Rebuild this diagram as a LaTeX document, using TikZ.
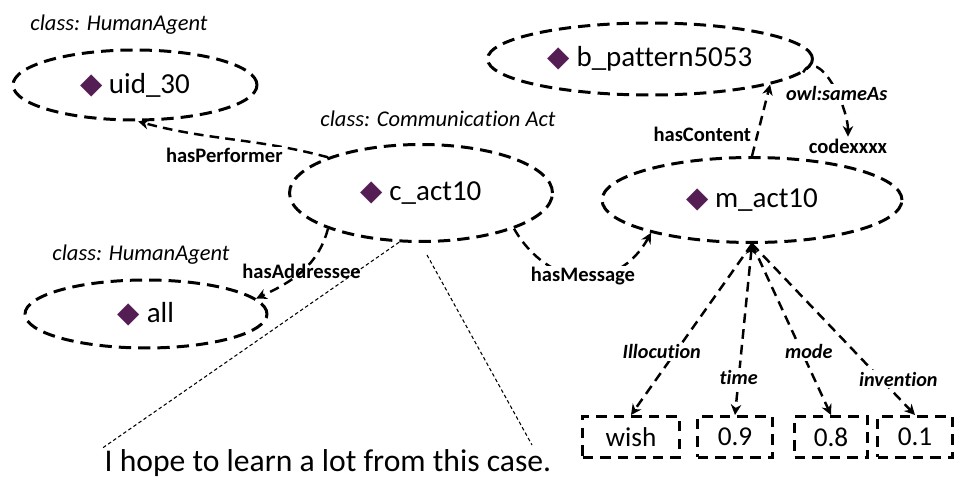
\documentclass[tikz,border=0pt]{standalone}
\usepackage{fontspec}
\setmainfont{Carlito}[Ligatures=NoCommon]
\newfontfamily\symfont{DejaVu Sans}
\usetikzlibrary{shapes.geometric}
\usetikzlibrary{arrows.meta}
\definecolor{dmdcol}{RGB}{84,30,84}
\newcommand{\dmd}{{\symfont\textcolor{dmdcol}{◆}}}
\tikzset{
  inst/.style={ellipse,draw=black,line width=1.7pt,dash pattern=on 7pt off 4pt,inner sep=0pt,font=\fontsize{16.5}{19}\selectfont},
  valbox/.style={rectangle,draw=black,line width=1.7pt,dash pattern=on 6pt off 4pt,minimum height=0.82cm,font=\fontsize{15.5}{18}\selectfont},
  rel/.style={line width=1.4pt,dash pattern=on 5.5pt off 3.5pt,-{Stealth[length=6pt,width=6pt]}},
  lbl/.style={font=\bfseries\fontsize{11.7}{14}\selectfont,fill=white,inner sep=1pt},
  attr/.style={font=\bfseries\itshape\fontsize{11.5}{14}\selectfont,fill=white,inner sep=1pt},
  cls/.style={font=\itshape\fontsize{12.8}{15}\selectfont},
  note/.style={black,line width=0.6pt,dash pattern=on 2pt off 1.5pt}
}
\begin{document}
\begin{tikzpicture}[x=0.02cm,y=0.02cm]
\useasboundingbox (0,0) rectangle (955,479);
\node[cls] (cuid) at (119,454) {class: HumanAgent};
\node[inst,minimum width=4.88cm,minimum height=1.4cm] (uid) at (135,394) {\dmd~uid\_30\hspace{16pt}};
\node[cls] (ccact) at (438,360) {class: Communication Act};
\node[inst,minimum width=5.26cm,minimum height=1.94cm] (cact) at (421,286) {\dmd~c\_act10};
\node[cls] (call) at (141,224) {class: HumanAgent};
\node[inst,minimum width=4.84cm,minimum height=1.36cm] (all) at (146,165) {\dmd~all\hspace{16pt}};
\node[inst,minimum width=6.5cm,minimum height=1.44cm] (bpat) at (650,420) {\dmd~b\_pattern5053\hspace{14pt}};
\node[inst,minimum width=6cm,minimum height=1.7cm] (mact) at (752,279) {\dmd~m\_act10\hspace{12pt}};
\node[lbl,fill=none] (code) at (848,333) {codexxxx};
\node[valbox,minimum width=1.94cm] (wish) at (631,42) {wish};
\node[valbox,minimum width=1.5cm] (v09) at (735,42) {0.9};
\node[valbox,minimum width=1.46cm] (v08) at (831,42) {0.8};
\node[valbox,minimum width=1.5cm] (v01) at (915,42) {0.1};
\node[font=\fontsize{18}{21}\selectfont,inner sep=1pt,anchor=base] (quote) at (328,7) {I hope to learn a lot from this case.};

\draw[rel] (cact.159) to[out=165,in=-15] node[lbl,pos=0.55,yshift=-10pt] {hasPerformer} (uid.-85);
\draw[rel] (cact.-159) to[out=-105,in=25] node[lbl,fill=none,pos=0.5] {hasAddressee} (all.8);
\draw[rel] (cact.-21) to[out=-60,in=-119,looseness=1.3] node[lbl,pos=0.5] {hasMessage} (mact.-162);
\draw[rel] (mact.north) -- node[lbl,left=2pt,pos=0.3] {hasContent} (bpat.-12);
\draw[rel] (bpat.-5) to[out=60,in=90] node[attr,pos=0.6] {owl:sameAs} (code.north);

\draw[rel] (mact.south) -- node[attr,pos=0.63,xshift=-8pt] {Illocution} (wish.north);
\draw[rel,{Stealth[length=6pt,width=6pt]}-{Stealth[length=6pt,width=6pt]}] (mact.south) -- node[attr,pos=0.78] {time} (v09.north);
\draw[rel] (mact.south) -- node[attr,pos=0.63,xshift=4pt] {mode} (v08.north);
\draw[rel] (mact.south) -- node[attr,pos=0.79,xshift=10pt] {invention} (v01.north);

\coordinate (qa) at (427,224);
\coordinate (qb) at (532,34);
\draw[note] (cact.-114) -- (quote.north west);
\draw[note] (qa) -- (qb);
\end{tikzpicture}
\end{document}
